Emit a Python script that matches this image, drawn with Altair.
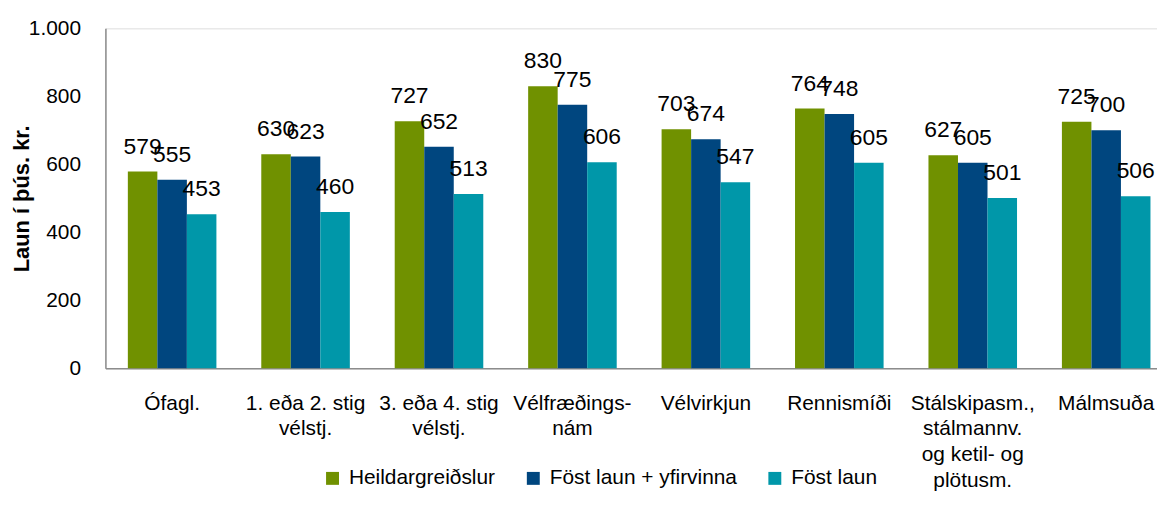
import altair as alt
import pandas as pd

categories = ["Ófagl.", "1. eða 2. stig\nvélstj.", "3. eða 4. stig\nvélstj.", "Vélfræðings-\nnám",
              "Vélvirkjun", "Rennismíði", "Stálskipasm.,\nstálmannv.\nog ketil- og\nplötusm.", "Málmsuða"]
series = ["Heildargreiðslur", "Föst laun + yfirvinna", "Föst laun"]
heildar = [579, 630, 727, 830, 703, 764, 627, 725]
yfirvinna = [555, 623, 652, 775, 674, 748, 605, 700]
fost = [453, 460, 513, 606, 547, 605, 501, 506]
colors = ["#709100", "#00467F", "#0097A9"]

rows = []
for s, vals in zip(series, [heildar, yfirvinna, fost]):
    for c, v in zip(categories, vals):
        rows.append({"cat": c, "series": s, "value": v})
df = pd.DataFrame(rows)

xscale = alt.Scale(range=[0, 1074], paddingInner=0, paddingOuter=0)
xenc = alt.X("cat:N", sort=categories, scale=xscale,
             axis=alt.Axis(title=None, ticks=False, labelAngle=0, labelPadding=24,
                           labelFontSize=21, labelColor="#000000", labelFont="Liberation Sans",
                           labelLineHeight=26, labelLimit=300,
                           labelExpr="split(datum.label, '\\n')",
                           domainColor="#8c8c8c", domainWidth=1.5))
xoff = alt.XOffset("series:N", sort=series, scale=alt.Scale(paddingInner=0, paddingOuter=0.76))
yenc = alt.Y("value:Q", scale=alt.Scale(domain=[0, 1000]),
             axis=alt.Axis(title="Laun í þús. kr.", values=[0, 200, 400, 600, 800, 1000],
                           labelExpr="replace(format(datum.value, ','), ',', '.')",
                           grid=False, ticks=False, labelPadding=25, labelFontSize=21,
                           labelColor="#000000", labelFont="Liberation Sans",
                           titleFont="Liberation Sans", titleFontSize=22, titleFontWeight="bold",
                           titleColor="#000000", titleX=-72, titleY=171,
                           titleAlign="center", titleBaseline="bottom", titleAngle=270,
                           domainColor="#8c8c8c", domainWidth=1.5))

bars = alt.Chart(df).mark_bar().encode(
    x=xenc, xOffset=xoff, y=yenc,
    color=alt.Color("series:N", sort=series, scale=alt.Scale(domain=series, range=colors),
                    legend=alt.Legend(title=None, orient="none", direction="horizontal",
                                      legendX=218, legendY=442, padding=0,
                                      symbolType="square", symbolSize=169, symbolStrokeWidth=0,
                                      labelFontSize=21, labelFont="Liberation Sans",
                                      labelColor="#000000", labelOffset=6, columnPadding=27,
                                      labelLimit=400))
)

labels = alt.Chart(df).mark_text(baseline="alphabetic", dy=-18, fontSize=23,
                                 font="Liberation Sans", color="#000000").encode(
    x=alt.X("cat:N", sort=categories, scale=xscale),
    xOffset=xoff,
    y=alt.Y("value:Q"),
    text=alt.Text("value:Q")
)

chart = alt.layer(bars, labels).properties(
    width=1058, height=342,
    autosize=alt.AutoSizeParams(type="none"),
    padding={"left": 98, "top": 19, "right": 0, "bottom": 130},
).configure_view(stroke=None).configure(background="#ffffff")

chart.save("out.html", embed_options={"renderer": "svg", "actions": False})
